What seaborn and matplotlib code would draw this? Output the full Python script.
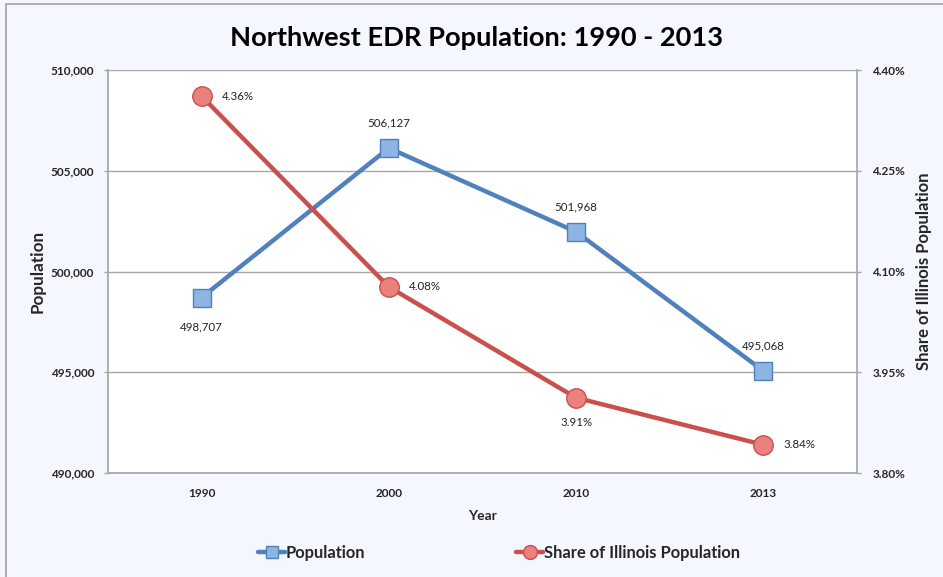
import matplotlib
matplotlib.use("Agg")
import matplotlib.pyplot as plt
import matplotlib.ticker as mticker
from matplotlib.patches import Rectangle
from matplotlib.lines import Line2D
import seaborn as sns
import pandas as pd

years = ["1990", "2000", "2010", "2013"]
population = [498707, 506127, 501968, 495068]
share_pct = [4.361, 4.077, 3.912, 3.842]
pop_ticks = [490000, 495000, 500000, 505000, 510000]
share_ticks = [3.80, 3.95, 4.10, 4.25, 4.40]

title = "Northwest EDR Population: 1990 - 2013"

sns.set_theme(style="white")
plt.rcParams["font.family"] = ["Lato", "DejaVu Sans"]

BG = "#F4F7FE"
BLUE = "#4F81BD"
BLUE_FILL = "#8DB4E2"
RED = "#C9504D"
RED_FILL = "#EA817D"
GRID = "#A6A6A6"

df = pd.DataFrame({"Year": years, "Population": population, "Share": share_pct})

fig = plt.figure(figsize=(9.43, 5.77), dpi=100, facecolor=BG)
W, H = 943, 577
ax = fig.add_axes([108 / W, 1 - 473 / H, (857 - 108) / W, (473 - 70) / H])
ax.set_facecolor("white")
ax2 = ax.twinx()

sns.lineplot(data=df, x="Year", y="Population", ax=ax, color=BLUE, linewidth=3.2,
             marker="s", markersize=13, markerfacecolor=BLUE_FILL, markeredgecolor=BLUE,
             markeredgewidth=1.0, sort=False, zorder=3)
sns.lineplot(data=df, x="Year", y="Share", ax=ax2, color=RED, linewidth=3.2,
             marker="o", markersize=14, markerfacecolor=RED_FILL, markeredgecolor=RED,
             markeredgewidth=1.0, sort=False, zorder=3)

ax.set_xlim(-0.5, len(years) - 0.5)
ax.set_ylim(pop_ticks[0], pop_ticks[-1])
ax.set_yticks(pop_ticks)
ax.yaxis.set_major_formatter(mticker.FuncFormatter(lambda v, p: f"{int(v):,}"))
ax2.set_ylim(share_ticks[0], share_ticks[-1])
ax2.set_yticks(share_ticks)
ax2.yaxis.set_major_formatter(mticker.FuncFormatter(lambda v, p: f"{v:.2f}%"))

for a in (ax, ax2):
    for s in a.spines.values():
        s.set_visible(False)
ax.spines["left"].set_visible(True)
ax.spines["left"].set_color(GRID)
ax.spines["bottom"].set_visible(True)
ax.spines["bottom"].set_color(GRID)
ax2.spines["right"].set_visible(True)
ax2.spines["right"].set_color(GRID)

ax.yaxis.grid(True, color=GRID, linewidth=1.0)
ax.set_axisbelow(True)

ax.tick_params(axis="y", which="major", length=3, width=1, color=GRID, pad=7,
               labelsize=8.5, left=True)
ax2.tick_params(axis="y", which="major", length=3, width=1, color=GRID, pad=8,
                labelsize=8.5, right=True)
ax.tick_params(axis="x", length=0, pad=11, labelsize=8.5)
for lab in ax.get_yticklabels() + ax2.get_yticklabels() + ax.get_xticklabels():
    lab.set_fontweight("bold")

ax.set_xlabel("Year", fontsize=10, fontweight="bold", labelpad=8)
ax.set_ylabel("Population", fontsize=12.3, fontweight="bold", labelpad=3.5)
ax2.set_ylabel("Share of Illinois Population", fontsize=12, fontweight="bold", labelpad=8)

# data labels
pop_off = [(0, -21), (0, 18), (0, 18), (0, 18)]
for i, (v, off) in enumerate(zip(population, pop_off)):
    ax.annotate(f"{v:,}", (i, v), xytext=off, textcoords="offset points",
                ha="center", va="center", fontsize=8.3, color="#222222")
share_off = [(26, 0), (26, 0), (0, -18), (26, 0)]
for i, (v, off) in enumerate(zip(share_pct, share_off)):
    ax2.annotate(f"{v:.2f}%", (i, v), xytext=off, textcoords="offset points",
                 ha="center", va="center", fontsize=8.3, color="#222222")

fig.text(477 / W, 1 - 38 / H, title, ha="center", va="center", fontsize=19.6,
         fontweight="bold", color="black")

handles = [
    Line2D([], [], color=BLUE, linewidth=3.2, marker="s", markersize=9,
           markerfacecolor=BLUE_FILL, markeredgecolor=BLUE),
    Line2D([], [], color=RED, linewidth=3.2, marker="o", markersize=10,
           markerfacecolor=RED_FILL, markeredgecolor=RED),
]
leg = fig.legend(handles, ["Population", "Share of Illinois Population"],
                 loc="center", bbox_to_anchor=(499 / W, 1 - 553 / H), ncol=2,
                 frameon=False, handlelength=1.6, handletextpad=0.05,
                 columnspacing=9.15, prop={"weight": "bold", "size": 11.9})

fig.patches.append(Rectangle((6 / W, -0.1), 1.2, 1 - 4 / H + 0.1,
                             transform=fig.transFigure, fill=False,
                             edgecolor="#A0A0A0", linewidth=1.2, zorder=-1))

fig.savefig("out.png", dpi=100, facecolor=BG)
